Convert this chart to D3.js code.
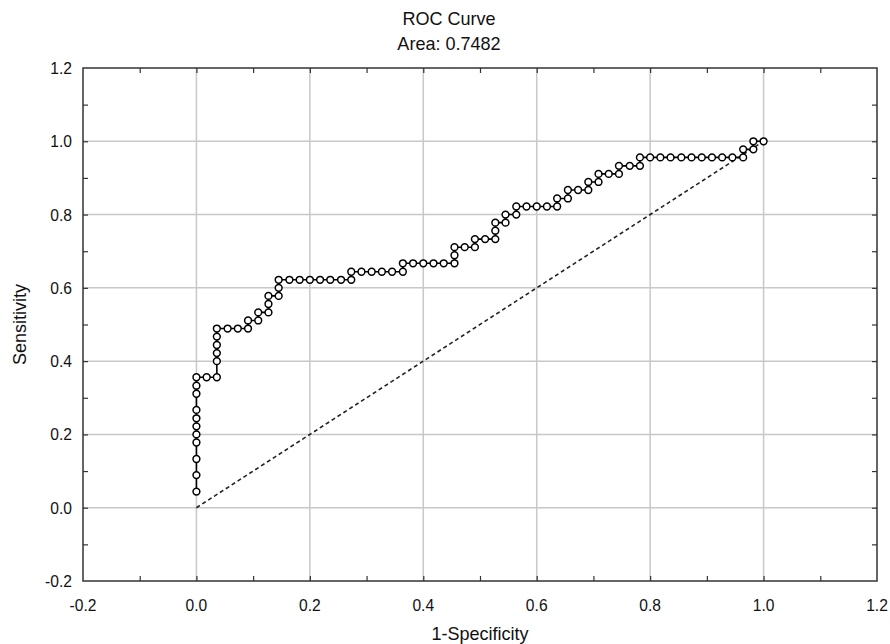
<!DOCTYPE html>
<html>
<head>
<meta charset="utf-8">
<script src="https://cdn.jsdelivr.net/npm/d3@7"></script>
<style>
  body { margin: 0; background: #fff; }
  text { font-family: "Liberation Sans", Arial, sans-serif; fill: #111; }
  .tick-label { font-size: 17px; }
  .title { font-size: 19px; }
</style>
</head>
<body>
<svg class="chart"></svg>
<script>
// 1-Specificity (false positive rate) of each ROC point
var fpr = [0,0,0,0,0,0,0,0,0,0,0,
  0.018,0.036,0.036,0.036,0.036,0.036,0.036,
  0.055,0.073,0.091,0.091,
  0.109,0.109,
  0.127,0.127,0.127,
  0.145,0.145,0.145,
  0.164,0.182,0.2,0.218,0.236,0.255,0.273,0.273,
  0.291,0.309,0.327,0.345,0.364,0.364,
  0.382,0.4,0.418,0.436,0.455,0.455,0.455,
  0.473,0.491,0.491,
  0.509,0.527,0.527,0.527,
  0.545,0.545,
  0.564,0.564,
  0.582,0.6,0.618,0.636,0.636,
  0.655,0.655,
  0.673,0.691,0.691,
  0.709,0.709,
  0.727,0.745,0.745,
  0.764,0.782,0.782,
  0.8,0.818,0.836,0.855,0.873,0.891,0.909,0.927,0.945,0.964,0.964,
  0.982,0.982,
  1];

// Sensitivity of each ROC point
var tpr = [0.044,0.089,0.133,0.178,0.2,0.222,0.244,0.267,0.311,0.333,0.356,
  0.356,0.356,0.4,0.422,0.444,0.467,0.489,
  0.489,0.489,0.489,0.511,
  0.511,0.533,
  0.533,0.556,0.578,
  0.578,0.6,0.622,
  0.622,0.622,0.622,0.622,0.622,0.622,0.622,0.644,
  0.644,0.644,0.644,0.644,0.644,0.667,
  0.667,0.667,0.667,0.667,0.667,0.689,0.711,
  0.711,0.711,0.733,
  0.733,0.733,0.756,0.778,
  0.778,0.8,
  0.8,0.822,
  0.822,0.822,0.822,0.822,0.844,
  0.844,0.867,
  0.867,0.867,0.889,
  0.889,0.911,
  0.911,0.911,0.933,
  0.933,0.933,0.956,
  0.956,0.956,0.956,0.956,0.956,0.956,0.956,0.956,0.956,0.956,0.978,
  0.978,1,
  1];

var diagonal = [[0, 0], [1, 1]];
var majorTicks = [-0.2, 0, 0.2, 0.4, 0.6, 0.8, 1.0, 1.2];
var gridTicks = [0, 0.2, 0.4, 0.6, 0.8, 1.0];
var minorTicks = [-0.1, 0, 0.1, 0.2, 0.3, 0.4, 0.5, 0.6, 0.7, 0.8, 0.9, 1.0, 1.1];
var title = "ROC Curve";
var subtitle = "Area: 0.7482";
var xTitle = "1-Specificity";
var yTitle = "Sensitivity";

var W = 890, H = 644;
var margin = {top: 68, right: 13, bottom: 63, left: 83},
    width = W - margin.left - margin.right,
    height = H - margin.top - margin.bottom;

var points = fpr.map(function(d, i) { return {x: d, y: tpr[i]}; });

var x = d3.scaleLinear().domain([-0.2, 1.2]).range([0, width]);
var y = d3.scaleLinear().domain([-0.2, 1.2]).range([height, 0]);
var fmt = function(d) { return d.toFixed(1); };

var svg = d3.select(".chart").attr("width", W).attr("height", H);
var chart = svg.append("g")
    .attr("transform", "translate(" + margin.left + "," + margin.top + ")");

// grid
chart.selectAll(".vgrid").data(gridTicks).enter().append("line")
    .attr("x1", function(d) { return x(d); }).attr("x2", function(d) { return x(d); })
    .attr("y1", 0).attr("y2", height)
    .attr("stroke", "#c8c8c8").attr("stroke-width", 1.5);
chart.selectAll(".hgrid").data(gridTicks).enter().append("line")
    .attr("y1", function(d) { return y(d); }).attr("y2", function(d) { return y(d); })
    .attr("x1", 0).attr("x2", width)
    .attr("stroke", "#c8c8c8").attr("stroke-width", 1.5);

// inner ticks on all four sides
function inner(axis) {
  return function(g) {
    g.call(axis.tickValues(minorTicks).tickSize(-5).tickFormat(""));
    g.select(".domain").remove();
    g.selectAll(".tick line").attr("stroke", "#333").attr("stroke-width", 1.2);
  };
}
chart.append("g").attr("transform", "translate(0," + height + ")").call(inner(d3.axisBottom(x)));
chart.append("g").call(inner(d3.axisTop(x)));
chart.append("g").call(inner(d3.axisLeft(y)));
chart.append("g").attr("transform", "translate(" + width + ",0)").call(inner(d3.axisRight(y)));

// reference diagonal
chart.append("path")
    .datum(diagonal)
    .attr("d", d3.line().x(function(d) { return x(d[0]); }).y(function(d) { return y(d[1]); }))
    .attr("fill", "none").attr("stroke", "#222").attr("stroke-width", 1.6)
    .attr("stroke-dasharray", "4,3");

// ROC curve
chart.append("path")
    .datum(points)
    .attr("d", d3.line().x(function(d) { return x(d.x); }).y(function(d) { return y(d.y); }))
    .attr("fill", "none").attr("stroke", "#000").attr("stroke-width", 1.6);

chart.selectAll(".pt").data(points).enter().append("circle")
    .attr("class", "pt")
    .attr("cx", function(d) { return x(d.x); })
    .attr("cy", function(d) { return y(d.y); })
    .attr("r", 3.4)
    .attr("fill", "#fff").attr("stroke", "#000").attr("stroke-width", 1.5);

// frame
chart.append("rect")
    .attr("width", width).attr("height", height)
    .attr("fill", "none").attr("stroke", "#333").attr("stroke-width", 1.5);

function place(px, py, sx, extra) {
  return "translate(" + px + "," + py + ")" + (extra || "") + " scale(" + sx + ",1)";
}

// tick labels
chart.selectAll(".xl").data(majorTicks).enter().append("text")
    .attr("class", "tick-label")
    .attr("transform", function(d) { return place(x(d), height + 30, 0.92); })
    .attr("text-anchor", "middle")
    .text(fmt);
chart.selectAll(".yl").data(majorTicks).enter().append("text")
    .attr("class", "tick-label")
    .attr("transform", function(d) { return place(-11, y(d), 0.92); })
    .attr("dy", "0.35em")
    .attr("text-anchor", "end")
    .text(fmt);

// titles
svg.append("text").attr("class", "title").attr("transform", place(449, 25, 0.95)).attr("text-anchor", "middle").text(title);
svg.append("text").attr("class", "title").attr("transform", place(449, 50, 0.95)).attr("text-anchor", "middle").text(subtitle);
svg.append("text").attr("class", "title").attr("transform", place(margin.left + width / 2, 640, 0.95)).attr("text-anchor", "middle").text(xTitle);
svg.append("text").attr("class", "title")
    .attr("transform", place(26, margin.top + height / 2, 0.95, " rotate(-90)"))
    .attr("text-anchor", "middle")
    .text(yTitle);
</script>
</body>
</html>
